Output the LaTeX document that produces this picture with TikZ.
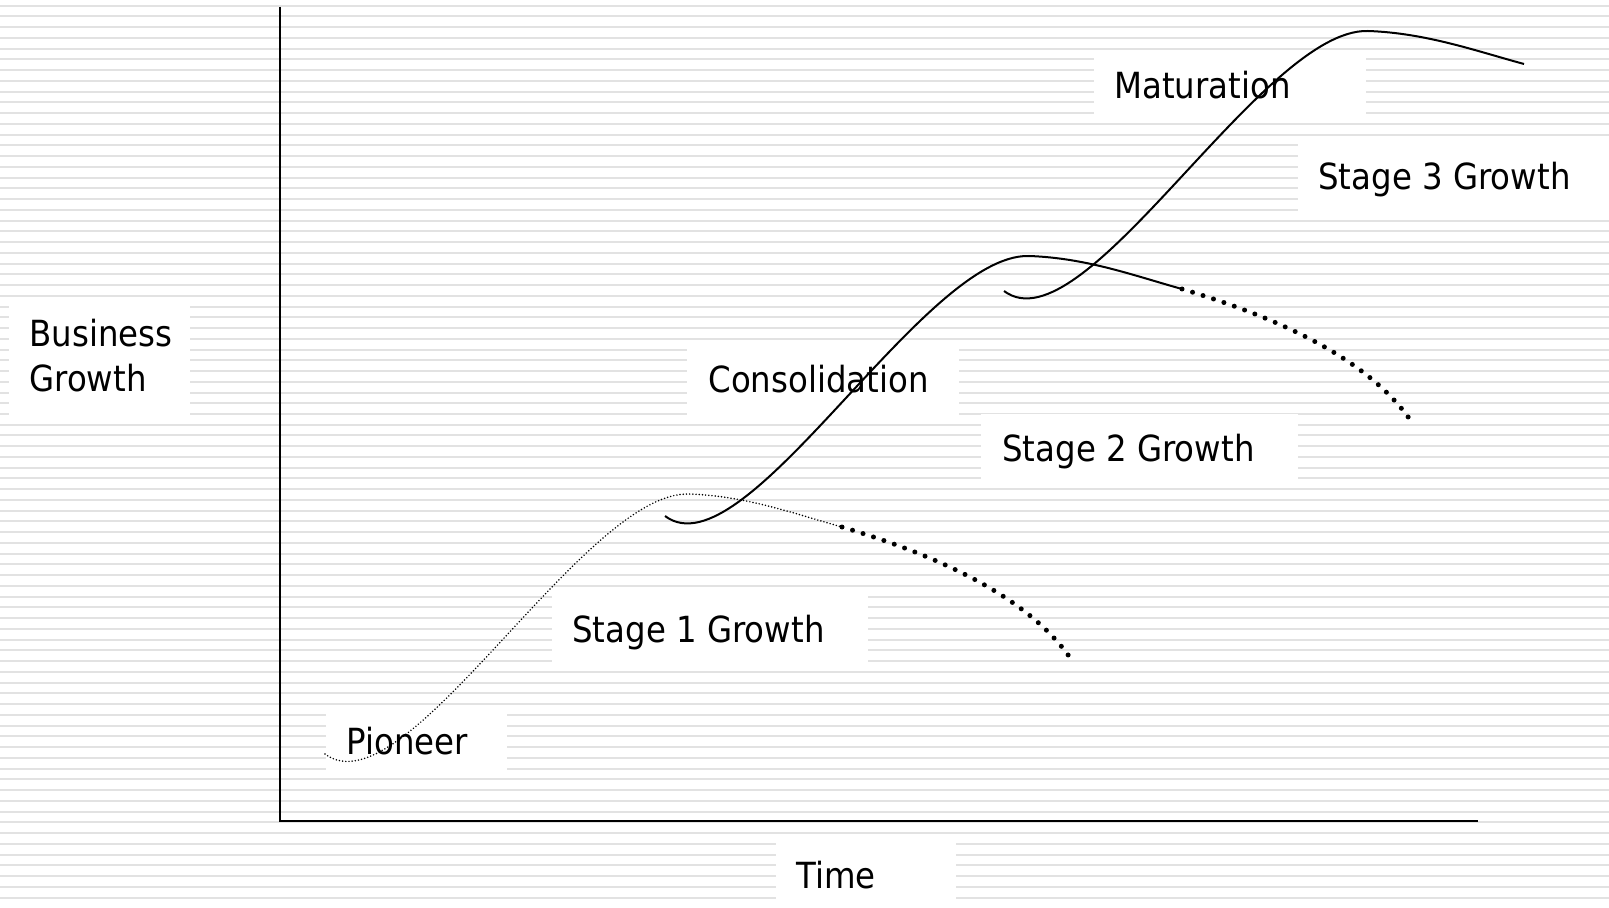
\documentclass[tikz,border=0pt]{standalone}
\usepackage{fontspec}
\setmainfont{DejaVu Sans}[FakeStretch=0.9]
\begin{document}
\begin{tikzpicture}[x=0.5pt,y=-0.5pt,
  stripe/.style={line width=1pt,color={rgb,255:red,226;green,226;blue,226}},
  wbox/.style={rectangle,fill=white,draw=none,inner sep=0pt,anchor=north west},
  lbl/.style={inner sep=0pt,anchor=base west,font=\fontsize{18}{22.5}\selectfont,align=left},
  axis/.style={line width=1pt,black},
  solidcurve/.style={line width=1pt,black},
  finedots/.style={line width=0.85pt,line cap=round,dash pattern=on 0pt off 1.6pt},
  bigdots/.style={line width=2.5pt,line cap=round,dash pattern=on 0pt off 5.5pt}]
\clip (0,0) rectangle (1609,908);
\useasboundingbox (0,0) rectangle (1609,908);
% ruled background
\fill[white] (0,0) rectangle (1609,908);
\foreach \k in {0,...,83}{
  \draw[stripe] (0,{5.7+10.745*\k}) -- (1609,{5.7+10.745*\k});
}
% label panels
\node[wbox,minimum width=90.5pt,minimum height=55pt] (bgbox) at (9,305) {};
\node[wbox,minimum width=90.5pt,minimum height=32.5pt] (pbox) at (326,711) {};
\node[wbox,minimum width=158pt,minimum height=34pt] (s1box) at (552,595) {};
\node[wbox,minimum width=136pt,minimum height=33.5pt] (cbox) at (687,348) {};
\node[wbox,minimum width=158.5pt,minimum height=33pt] (s2box) at (981,414) {};
\node[wbox,minimum width=136pt,minimum height=28.5pt] (mbox) at (1094,58) {};
\node[wbox,minimum width=170pt,minimum height=33.5pt] (s3box) at (1298,144) {};
\node[wbox,minimum width=90pt,minimum height=40pt] (tbox) at (776,843) {};
% axes
\coordinate (ytop) at (280,7);
\coordinate (origin) at (280,821);
\coordinate (xend) at (1478,821);
\draw[axis] (ytop) -- (origin) -- (xend);
% growth curves: one common shape, shifted to each start point
\coordinate (c1) at (325,754);
\coordinate (c2) at (665,516);
\coordinate (c3) at (1004,291);
\begin{scope}[shift={(c1)}]
  \draw[finedots] (0,0) .. controls (80,60) and (258,-263) .. (364,-260)
                        .. controls (422,-258) and (470,-240) .. (517,-227);
  \draw[bigdots] (517,-227) .. controls (590,-205) and (700,-165) .. (748,-92);
\end{scope}
\begin{scope}[shift={(c2)}]
  \draw[solidcurve] (0,0) .. controls (80,60) and (258,-263) .. (364,-260)
                          .. controls (422,-258) and (470,-240) .. (517,-227);
  \draw[bigdots] (517,-227) .. controls (590,-205) and (700,-165) .. (748,-92);
\end{scope}
\begin{scope}[shift={(c3)}]
  \draw[solidcurve] (0,0) .. controls (80,60) and (258,-263) .. (364,-260)
                          .. controls (422,-258) and (472,-240) .. (520,-227);
\end{scope}
% labels
\node[lbl] (bg) at (29,392) {Business\\Growth};
\node[lbl] (pioneer) at (346,754) {Pioneer};
\node[lbl] (s1) at (572,642) {Stage 1 Growth};
\node[lbl] (cons) at (708,393) {Consolidation};
\node[lbl] (s2) at (1002,461) {Stage 2 Growth};
\node[lbl] (mat) at (1114,99) {Maturation};
\node[lbl] (s3) at (1318,190) {Stage 3 Growth};
\node[lbl] (time) at (796,888) {Time};
\end{tikzpicture}
\end{document}
